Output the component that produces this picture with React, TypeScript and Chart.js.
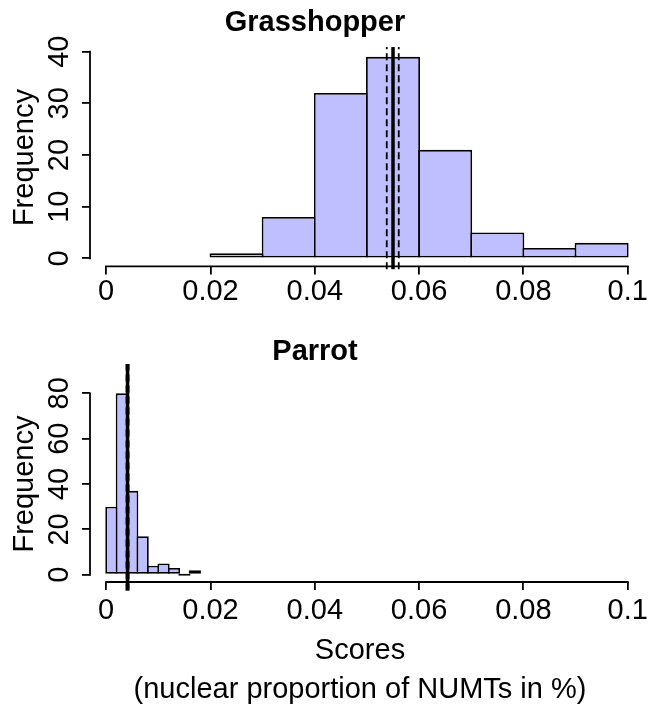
import React, { useEffect, useRef } from "react";
import { Chart, registerables } from "chart.js";

Chart.register(...registerables);

const FONT_FAMILY = "'Liberation Sans', Arial, Helvetica, sans-serif";
const FONT_SIZE = 29;
const BAR_FILL = "#BFBFFF";
const INK = "#000000";

// shared x axis
const xTicks = [0, 0.02, 0.04, 0.06, 0.08, 0.1];
const xLimits = [-0.0031, 0.10044];
const yTitle = "Frequency";
const xTitleLines = ["Scores", "(nuclear proportion of NUMTs in %)"];

// Grasshopper
const grassTitle = "Grasshopper";
const grassBinStarts = [0.02, 0.03, 0.04, 0.05, 0.06, 0.07, 0.08, 0.09];
const grassBinWidth = 0.01;
const grassCounts = [1, 8, 32, 39, 21, 5, 2, 3];
const grassMean = 0.055;
const grassLower = 0.0538;
const grassUpper = 0.0561;
const grassYTicks = [0, 10, 20, 30, 40];
const grassYLimits = [-1.56, 40.56];
const grassLineSpan = [-2.1, 40.9];

// Parrot
const parrotTitle = "Parrot";
const parrotBinStarts = [0, 0.002, 0.004, 0.006, 0.008, 0.01, 0.012, 0.014, 0.016];
const parrotBinWidth = 0.002;
const parrotCounts = [30, 80, 37, 17, 4, 5, 3, 0, 2];
const parrotMean = 0.0041;
const parrotLower = 0.0039;
const parrotUpper = 0.0043;
const parrotYTicks = [0, 20, 40, 60, 80];
const parrotYLimits = [-3.2, 83.2];
const parrotLineSpan = [-7, 93];

type Panel = {
  title: string;
  binStarts: number[];
  binWidth: number;
  counts: number[];
  mean: number;
  lower: number;
  upper: number;
  yTicks: number[];
  yLimits: number[];
  lineSpan: number[];
  xTitle: string[] | null;
  box: {
    top: number;
    height: number;
    titlePadTop: number;
    titlePadBottom: number;
    xScaleHeight: number;
    xTickPad: number;
    xTitlePadBottom: number;
    xTitleLineHeight: number;
    barPct: number;
  };
};

const panels: Panel[] = [
  {
    title: grassTitle,
    binStarts: grassBinStarts,
    binWidth: grassBinWidth,
    counts: grassCounts,
    mean: grassMean,
    lower: grassLower,
    upper: grassUpper,
    yTicks: grassYTicks,
    yLimits: grassYLimits,
    lineSpan: grassLineSpan,
    xTitle: null,
    box: {
      top: 0,
      height: 320,
      titlePadTop: 5.1,
      titlePadBottom: 8.9,
      xScaleHeight: 53.6,
      xTickPad: 0,
      xTitlePadBottom: 0,
      xTitleLineHeight: 39,
      barPct: 1.035,
    },
  },
  {
    title: parrotTitle,
    binStarts: parrotBinStarts,
    binWidth: parrotBinWidth,
    counts: parrotCounts,
    mean: parrotMean,
    lower: parrotLower,
    upper: parrotUpper,
    yTicks: parrotYTicks,
    yLimits: parrotYLimits,
    lineSpan: parrotLineSpan,
    xTitle: xTitleLines,
    box: {
      top: 320,
      height: 386,
      titlePadTop: 14.1,
      titlePadBottom: 17.2,
      xScaleHeight: 124,
      xTickPad: 3.8,
      xTitlePadBottom: -3.5,
      xTitleLineHeight: 39,
      barPct: 1.17,
    },
  },
];

const rAxesPlugin = {
  id: "rAxes",
  afterDraw(chart: any) {
    const { ctx, chartArea, scales } = chart;
    const x = scales.x;
    const y = scales.y;
    ctx.save();
    ctx.strokeStyle = INK;
    ctx.lineWidth = 1.8;
    ctx.lineCap = "square";
    const xt = x.ticks;
    ctx.beginPath();
    ctx.moveTo(x.getPixelForValue(xt[0].value), chartArea.bottom);
    ctx.lineTo(x.getPixelForValue(xt[xt.length - 1].value), chartArea.bottom);
    ctx.stroke();
    const yt = y.ticks;
    ctx.beginPath();
    ctx.moveTo(chartArea.left, y.getPixelForValue(yt[0].value));
    ctx.lineTo(chartArea.left, y.getPixelForValue(yt[yt.length - 1].value));
    ctx.stroke();
    ctx.restore();
  },
};

function vline(xv: number, span: number[], width: number, dash: number[]) {
  return {
    type: "line" as const,
    data: [
      { x: xv, y: span[0] },
      { x: xv, y: span[1] },
    ],
    borderColor: INK,
    borderWidth: width,
    borderDash: dash,
    pointRadius: 0,
    clip: false,
    order: 0,
  };
}

function makeConfig(p: Panel): any {
  const font = { family: FONT_FAMILY, size: FONT_SIZE };
  const b = p.box;
  return {
    type: "bar",
    data: {
      datasets: [
        vline(p.mean, p.lineSpan, 3.5, []),
        vline(p.lower, p.lineSpan, 1.8, [7, 4]),
        vline(p.upper, p.lineSpan, 1.8, [7, 4]),
        {
          type: "bar",
          data: p.binStarts.map((s, i) => ({ x: s + p.binWidth / 2, y: p.counts[i] })),
          backgroundColor: BAR_FILL,
          borderColor: INK,
          borderWidth: 1.8,
          borderSkipped: false,
          barPercentage: b.barPct,
          categoryPercentage: 1,
          minBarLength: 1.8,
          order: 1,
        },
      ],
    },
    options: {
      responsive: false,
      animation: false,
      events: [],
      layout: { padding: { top: 0, left: 0, right: 21, bottom: 0 } },
      plugins: {
        legend: { display: false },
        tooltip: { enabled: false },
        title: {
          display: true,
          text: p.title,
          color: INK,
          font: { family: FONT_FAMILY, size: FONT_SIZE, weight: "bold" },
          padding: { top: b.titlePadTop, bottom: b.titlePadBottom },
        },
      },
      scales: {
        x: {
          type: "linear",
          min: xLimits[0],
          max: xLimits[1],
          bounds: "data",
          offset: false,
          afterBuildTicks: (s: any) => {
            s.ticks = xTicks.map((v) => ({ value: v }));
          },
          afterFit: (s: any) => {
            s.height = b.xScaleHeight;
            s.paddingLeft = 0;
            s.paddingRight = 0;
          },
          grid: {
            offset: false,
            drawOnChartArea: false,
            drawTicks: true,
            tickLength: 8,
            color: INK,
            tickColor: INK,
            lineWidth: 1.8,
            tickWidth: 1.8,
          },
          border: { display: false },
          ticks: {
            autoSkip: false,
            minRotation: 0,
            maxRotation: 0,
            padding: b.xTickPad,
            color: INK,
            font,
            callback: (v: number) => String(v),
          },
          title: p.xTitle
            ? {
                display: true,
                text: p.xTitle,
                color: INK,
                font: { family: FONT_FAMILY, size: FONT_SIZE, lineHeight: b.xTitleLineHeight / FONT_SIZE },
                padding: { top: 0, bottom: b.xTitlePadBottom },
              }
            : { display: false },
        },
        y: {
          type: "linear",
          min: p.yLimits[0],
          max: p.yLimits[1],
          bounds: "data",
          afterBuildTicks: (s: any) => {
            s.ticks = p.yTicks.map((v) => ({ value: v }));
          },
          afterFit: (s: any) => {
            s.width = 90;
            s.paddingTop = 0;
            s.paddingBottom = 0;
          },
          grid: {
            drawOnChartArea: false,
            drawTicks: true,
            tickLength: 8,
            color: INK,
            tickColor: INK,
            lineWidth: 1.8,
            tickWidth: 1.8,
          },
          border: { display: false },
          ticks: {
            autoSkip: false,
            minRotation: 90,
            maxRotation: 90,
            crossAlign: "center",
            padding: 5.9,
            color: INK,
            font,
            callback: (v: number) => String(v),
          },
          title: {
            display: true,
            text: yTitle,
            color: INK,
            font,
            padding: { top: 7.6, bottom: 0 },
          },
        },
      },
    },
    plugins: [rAxesPlugin],
  };
}

function PanelChart({ panel }: { panel: Panel }) {
  const ref = useRef<HTMLCanvasElement>(null);
  useEffect(() => {
    const chart = new Chart(ref.current as HTMLCanvasElement, makeConfig(panel));
    return () => chart.destroy();
  }, [panel]);
  return (
    <canvas
      ref={ref}
      width={651}
      height={panel.box.height}
      style={{
        position: "absolute",
        left: 0,
        top: panel.box.top,
        width: 651,
        height: panel.box.height,
        display: "block",
      }}
    />
  );
}

export default function App() {
  useEffect(() => {
    document.body.style.margin = "0";
    document.body.style.overflow = "hidden";
  }, []);
  return (
    <div style={{ position: "relative", width: 651, height: 706, background: "#ffffff" }}>
      {panels.map((p) => (
        <PanelChart key={p.title} panel={p} />
      ))}
    </div>
  );
}
